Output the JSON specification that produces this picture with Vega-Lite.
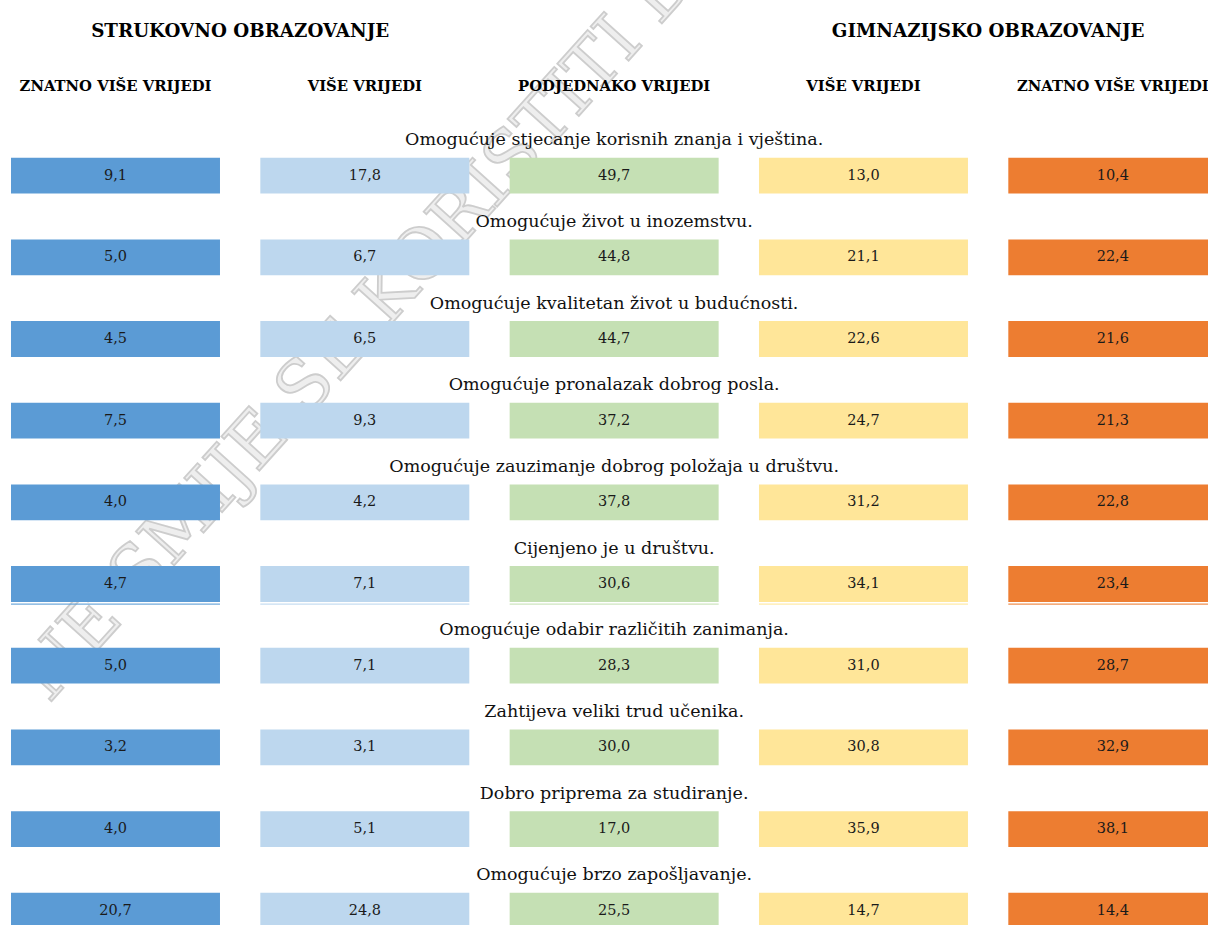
{
  "$schema": "https://vega.github.io/schema/vega-lite/v6.json",
  "width": 1208,
  "height": 925,
  "autosize": {"type": "none"},
  "padding": 0,
  "background": "white",
  "config": {
    "view": {"stroke": null},
    "locale": {"number": {"decimal": ",", "thousands": ".", "grouping": [3], "currency": ["", " kn"]}}
  },
  "datasets": {
    "vals": [
      {"item": "Omogućuje stjecanje korisnih znanja i vještina.", "col": "s2", "value": 9.1},
      {"item": "Omogućuje stjecanje korisnih znanja i vještina.", "col": "s1", "value": 17.8},
      {"item": "Omogućuje stjecanje korisnih znanja i vještina.", "col": "p", "value": 49.7},
      {"item": "Omogućuje stjecanje korisnih znanja i vještina.", "col": "g1", "value": 13.0},
      {"item": "Omogućuje stjecanje korisnih znanja i vještina.", "col": "g2", "value": 10.4},
      {"item": "Omogućuje život u inozemstvu.", "col": "s2", "value": 5.0},
      {"item": "Omogućuje život u inozemstvu.", "col": "s1", "value": 6.7},
      {"item": "Omogućuje život u inozemstvu.", "col": "p", "value": 44.8},
      {"item": "Omogućuje život u inozemstvu.", "col": "g1", "value": 21.1},
      {"item": "Omogućuje život u inozemstvu.", "col": "g2", "value": 22.4},
      {"item": "Omogućuje kvalitetan život u budućnosti.", "col": "s2", "value": 4.5},
      {"item": "Omogućuje kvalitetan život u budućnosti.", "col": "s1", "value": 6.5},
      {"item": "Omogućuje kvalitetan život u budućnosti.", "col": "p", "value": 44.7},
      {"item": "Omogućuje kvalitetan život u budućnosti.", "col": "g1", "value": 22.6},
      {"item": "Omogućuje kvalitetan život u budućnosti.", "col": "g2", "value": 21.6},
      {"item": "Omogućuje pronalazak dobrog posla.", "col": "s2", "value": 7.5},
      {"item": "Omogućuje pronalazak dobrog posla.", "col": "s1", "value": 9.3},
      {"item": "Omogućuje pronalazak dobrog posla.", "col": "p", "value": 37.2},
      {"item": "Omogućuje pronalazak dobrog posla.", "col": "g1", "value": 24.7},
      {"item": "Omogućuje pronalazak dobrog posla.", "col": "g2", "value": 21.3},
      {"item": "Omogućuje zauzimanje dobrog položaja u društvu.", "col": "s2", "value": 4.0},
      {"item": "Omogućuje zauzimanje dobrog položaja u društvu.", "col": "s1", "value": 4.2},
      {"item": "Omogućuje zauzimanje dobrog položaja u društvu.", "col": "p", "value": 37.8},
      {"item": "Omogućuje zauzimanje dobrog položaja u društvu.", "col": "g1", "value": 31.2},
      {"item": "Omogućuje zauzimanje dobrog položaja u društvu.", "col": "g2", "value": 22.8},
      {"item": "Cijenjeno je u društvu.", "col": "s2", "value": 4.7},
      {"item": "Cijenjeno je u društvu.", "col": "s1", "value": 7.1},
      {"item": "Cijenjeno je u društvu.", "col": "p", "value": 30.6},
      {"item": "Cijenjeno je u društvu.", "col": "g1", "value": 34.1},
      {"item": "Cijenjeno je u društvu.", "col": "g2", "value": 23.4},
      {"item": "Omogućuje odabir različitih zanimanja.", "col": "s2", "value": 5.0},
      {"item": "Omogućuje odabir različitih zanimanja.", "col": "s1", "value": 7.1},
      {"item": "Omogućuje odabir različitih zanimanja.", "col": "p", "value": 28.3},
      {"item": "Omogućuje odabir različitih zanimanja.", "col": "g1", "value": 31.0},
      {"item": "Omogućuje odabir različitih zanimanja.", "col": "g2", "value": 28.7},
      {"item": "Zahtijeva veliki trud učenika.", "col": "s2", "value": 3.2},
      {"item": "Zahtijeva veliki trud učenika.", "col": "s1", "value": 3.1},
      {"item": "Zahtijeva veliki trud učenika.", "col": "p", "value": 30.0},
      {"item": "Zahtijeva veliki trud učenika.", "col": "g1", "value": 30.8},
      {"item": "Zahtijeva veliki trud učenika.", "col": "g2", "value": 32.9},
      {"item": "Dobro priprema za studiranje.", "col": "s2", "value": 4.0},
      {"item": "Dobro priprema za studiranje.", "col": "s1", "value": 5.1},
      {"item": "Dobro priprema za studiranje.", "col": "p", "value": 17.0},
      {"item": "Dobro priprema za studiranje.", "col": "g1", "value": 35.9},
      {"item": "Dobro priprema za studiranje.", "col": "g2", "value": 38.1},
      {"item": "Omogućuje brzo zapošljavanje.", "col": "s2", "value": 20.7},
      {"item": "Omogućuje brzo zapošljavanje.", "col": "s1", "value": 24.8},
      {"item": "Omogućuje brzo zapošljavanje.", "col": "p", "value": 25.5},
      {"item": "Omogućuje brzo zapošljavanje.", "col": "g1", "value": 14.7},
      {"item": "Omogućuje brzo zapošljavanje.", "col": "g2", "value": 14.4}
    ],
    "items": [
      {"item": "Omogućuje stjecanje korisnih znanja i vještina.", "col": "p"},
      {"item": "Omogućuje život u inozemstvu.", "col": "p"},
      {"item": "Omogućuje kvalitetan život u budućnosti.", "col": "p"},
      {"item": "Omogućuje pronalazak dobrog posla.", "col": "p"},
      {"item": "Omogućuje zauzimanje dobrog položaja u društvu.", "col": "p"},
      {"item": "Cijenjeno je u društvu.", "col": "p"},
      {"item": "Omogućuje odabir različitih zanimanja.", "col": "p"},
      {"item": "Zahtijeva veliki trud učenika.", "col": "p"},
      {"item": "Dobro priprema za studiranje.", "col": "p"},
      {"item": "Omogućuje brzo zapošljavanje.", "col": "p"}
    ],
    "groups": [
      {"item": "_grp", "col": "s2", "text": "STRUKOVNO OBRAZOVANJE"},
      {"item": "_grp", "col": "g1", "text": "GIMNAZIJSKO OBRAZOVANJE"}
    ],
    "colheads": [
      {"item": "_col", "col": "s2", "text": "ZNATNO VIŠE VRIJEDI"},
      {"item": "_col", "col": "s1", "text": "VIŠE VRIJEDI"},
      {"item": "_col", "col": "p", "text": "PODJEDNAKO VRIJEDI"},
      {"item": "_col", "col": "g1", "text": "VIŠE VRIJEDI"},
      {"item": "_col", "col": "g2", "text": "ZNATNO VIŠE VRIJEDI"}
    ],
    "watermark": [
      {"item": "Omogućuje odabir različitih zanimanja.", "col": "s2", "text": "NE SMIJE SE KORISTITI BEZ DOPUŠTENJA"}
    ]
  },
  "layer": [
    {
      "data": {"name": "watermark"},
      "mark": {"type": "text", "font": "DejaVu Serif", "fontSize": 70, "angle": -48, "align": "left", "baseline": "alphabetic", "fill": "#eeeeee", "stroke": "#cdcdcd", "strokeWidth": 1.8, "dx": -16, "dy": 66},
      "encoding": {
        "x": {"field": "col", "type": "nominal", "bandPosition": 0, "scale": {"domain": ["s2", "s1", "p", "g1", "g2"], "range": [11, 1217.3], "paddingInner": 0.1618, "paddingOuter": 0}, "axis": null},
        "y": {"field": "item", "type": "nominal", "bandPosition": 0, "scale": {"domain": ["_grp", "_col", "Omogućuje stjecanje korisnih znanja i vještina.", "Omogućuje život u inozemstvu.", "Omogućuje kvalitetan život u budućnosti.", "Omogućuje pronalazak dobrog posla.", "Omogućuje zauzimanje dobrog položaja u društvu.", "Cijenjeno je u društvu.", "Omogućuje odabir različitih zanimanja.", "Zahtijeva veliki trud učenika.", "Dobro priprema za studiranje.", "Omogućuje brzo zapošljavanje."], "range": [-5.6, 928.6], "paddingInner": 0.5617, "paddingOuter": 0}, "axis": null},
        "text": {"field": "text", "type": "nominal"}
      }
    },
    {
      "data": {"name": "vals"},
      "mark": {"type": "rect"},
      "encoding": {
        "x": {"field": "col", "type": "nominal", "scale": {"domain": ["s2", "s1", "p", "g1", "g2"], "range": [11, 1217.3], "paddingInner": 0.1618, "paddingOuter": 0}, "axis": null},
        "y": {"field": "item", "type": "nominal", "scale": {"domain": ["_grp", "_col", "Omogućuje stjecanje korisnih znanja i vještina.", "Omogućuje život u inozemstvu.", "Omogućuje kvalitetan život u budućnosti.", "Omogućuje pronalazak dobrog posla.", "Omogućuje zauzimanje dobrog položaja u društvu.", "Cijenjeno je u društvu.", "Omogućuje odabir različitih zanimanja.", "Zahtijeva veliki trud učenika.", "Dobro priprema za studiranje.", "Omogućuje brzo zapošljavanje."], "range": [-5.6, 928.6], "paddingInner": 0.5617, "paddingOuter": 0}, "axis": null},
        "color": {"field": "col", "type": "nominal", "scale": {"domain": ["s2", "s1", "p", "g1", "g2"], "range": ["#5B9BD5", "#BDD7EE", "#C5E0B4", "#FFE699", "#ED7D31"]}, "legend": null}
      }
    },
    {
      "data": {"name": "vals"},
      "transform": [{"filter": "datum.item === 'Cijenjeno je u društvu.'"}],
      "mark": {"type": "tick", "orient": "horizontal", "size": 209, "thickness": 1.2, "yOffset": 2.3, "opacity": 0.85},
      "encoding": {
        "x": {"field": "col", "type": "nominal", "scale": {"domain": ["s2", "s1", "p", "g1", "g2"], "range": [11, 1217.3], "paddingInner": 0.1618, "paddingOuter": 0}, "axis": null},
        "y": {"field": "item", "type": "nominal", "bandPosition": 1, "scale": {"domain": ["_grp", "_col", "Omogućuje stjecanje korisnih znanja i vještina.", "Omogućuje život u inozemstvu.", "Omogućuje kvalitetan život u budućnosti.", "Omogućuje pronalazak dobrog posla.", "Omogućuje zauzimanje dobrog položaja u društvu.", "Cijenjeno je u društvu.", "Omogućuje odabir različitih zanimanja.", "Zahtijeva veliki trud učenika.", "Dobro priprema za studiranje.", "Omogućuje brzo zapošljavanje."], "range": [-5.6, 928.6], "paddingInner": 0.5617, "paddingOuter": 0}, "axis": null},
        "color": {"field": "col", "type": "nominal", "scale": {"domain": ["s2", "s1", "p", "g1", "g2"], "range": ["#5B9BD5", "#BDD7EE", "#C5E0B4", "#FFE699", "#ED7D31"]}, "legend": null}
      }
    },
    {
      "data": {"name": "vals"},
      "mark": {"type": "text", "font": "DejaVu Serif", "fontSize": 14.5, "color": "#1a1a1a", "baseline": "middle", "align": "center"},
      "encoding": {
        "x": {"field": "col", "type": "nominal", "scale": {"domain": ["s2", "s1", "p", "g1", "g2"], "range": [11, 1217.3], "paddingInner": 0.1618, "paddingOuter": 0}, "axis": null},
        "y": {"field": "item", "type": "nominal", "scale": {"domain": ["_grp", "_col", "Omogućuje stjecanje korisnih znanja i vještina.", "Omogućuje život u inozemstvu.", "Omogućuje kvalitetan život u budućnosti.", "Omogućuje pronalazak dobrog posla.", "Omogućuje zauzimanje dobrog položaja u društvu.", "Cijenjeno je u društvu.", "Omogućuje odabir različitih zanimanja.", "Zahtijeva veliki trud učenika.", "Dobro priprema za studiranje.", "Omogućuje brzo zapošljavanje."], "range": [-5.6, 928.6], "paddingInner": 0.5617, "paddingOuter": 0}, "axis": null},
        "text": {"field": "value", "type": "quantitative", "format": ".1f"}
      }
    },
    {
      "data": {"name": "items"},
      "mark": {"type": "text", "font": "DejaVu Serif", "fontSize": 17.5, "color": "#111111", "baseline": "alphabetic", "align": "center", "dy": -12.5},
      "encoding": {
        "x": {"field": "col", "type": "nominal", "scale": {"domain": ["s2", "s1", "p", "g1", "g2"], "range": [11, 1217.3], "paddingInner": 0.1618, "paddingOuter": 0}, "axis": null},
        "y": {"field": "item", "type": "nominal", "bandPosition": 0, "scale": {"domain": ["_grp", "_col", "Omogućuje stjecanje korisnih znanja i vještina.", "Omogućuje život u inozemstvu.", "Omogućuje kvalitetan život u budućnosti.", "Omogućuje pronalazak dobrog posla.", "Omogućuje zauzimanje dobrog položaja u društvu.", "Cijenjeno je u društvu.", "Omogućuje odabir različitih zanimanja.", "Zahtijeva veliki trud učenika.", "Dobro priprema za studiranje.", "Omogućuje brzo zapošljavanje."], "range": [-5.6, 928.6], "paddingInner": 0.5617, "paddingOuter": 0}, "axis": null},
        "text": {"field": "item", "type": "nominal"}
      }
    },
    {
      "data": {"name": "groups"},
      "mark": {"type": "text", "font": "DejaVu Serif", "fontSize": 18.3, "fontWeight": "bold", "color": "#000000", "baseline": "alphabetic", "align": "center", "dx": 124.7, "dy": 42.6},
      "encoding": {
        "x": {"field": "col", "type": "nominal", "scale": {"domain": ["s2", "s1", "p", "g1", "g2"], "range": [11, 1217.3], "paddingInner": 0.1618, "paddingOuter": 0}, "axis": null},
        "y": {"field": "item", "type": "nominal", "bandPosition": 0, "scale": {"domain": ["_grp", "_col", "Omogućuje stjecanje korisnih znanja i vještina.", "Omogućuje život u inozemstvu.", "Omogućuje kvalitetan život u budućnosti.", "Omogućuje pronalazak dobrog posla.", "Omogućuje zauzimanje dobrog položaja u društvu.", "Cijenjeno je u društvu.", "Omogućuje odabir različitih zanimanja.", "Zahtijeva veliki trud učenika.", "Dobro priprema za studiranje.", "Omogućuje brzo zapošljavanje."], "range": [-5.6, 928.6], "paddingInner": 0.5617, "paddingOuter": 0}, "axis": null},
        "text": {"field": "text", "type": "nominal"}
      }
    },
    {
      "data": {"name": "colheads"},
      "mark": {"type": "text", "font": "DejaVu Serif", "fontSize": 14.8, "fontWeight": "bold", "color": "#000000", "baseline": "alphabetic", "align": "center", "dy": 14.5},
      "encoding": {
        "x": {"field": "col", "type": "nominal", "scale": {"domain": ["s2", "s1", "p", "g1", "g2"], "range": [11, 1217.3], "paddingInner": 0.1618, "paddingOuter": 0}, "axis": null},
        "y": {"field": "item", "type": "nominal", "bandPosition": 0, "scale": {"domain": ["_grp", "_col", "Omogućuje stjecanje korisnih znanja i vještina.", "Omogućuje život u inozemstvu.", "Omogućuje kvalitetan život u budućnosti.", "Omogućuje pronalazak dobrog posla.", "Omogućuje zauzimanje dobrog položaja u društvu.", "Cijenjeno je u društvu.", "Omogućuje odabir različitih zanimanja.", "Zahtijeva veliki trud učenika.", "Dobro priprema za studiranje.", "Omogućuje brzo zapošljavanje."], "range": [-5.6, 928.6], "paddingInner": 0.5617, "paddingOuter": 0}, "axis": null},
        "text": {"field": "text", "type": "nominal"}
      }
    }
  ]
}
